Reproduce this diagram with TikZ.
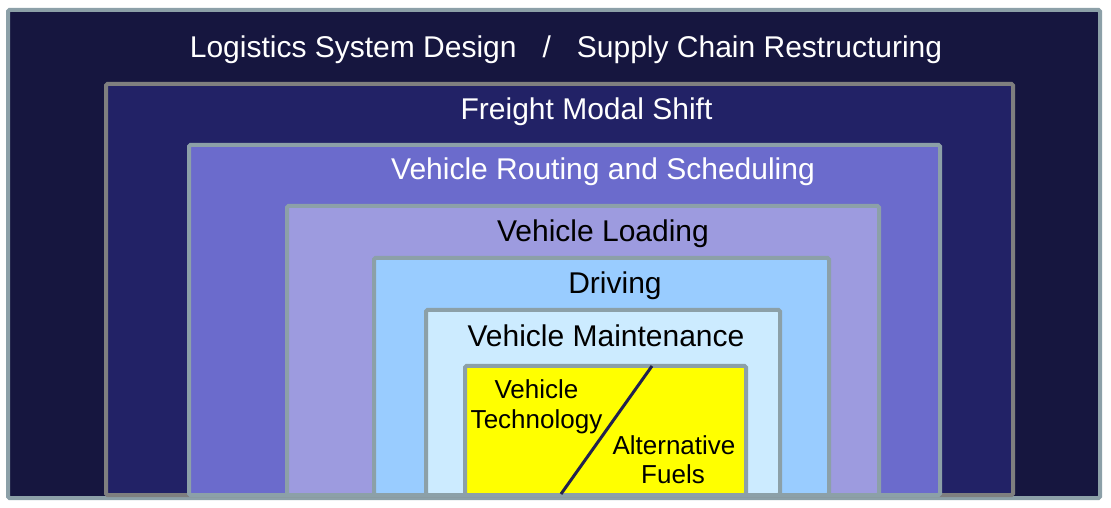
\documentclass[tikz,border=0pt]{standalone}
\usepackage{fontspec}
\setmainfont{Liberation Sans}
\definecolor{cOuter}{HTML}{16163F}
\definecolor{cFreight}{HTML}{222266}
\definecolor{cRouting}{HTML}{6B6BCC}
\definecolor{cLoading}{HTML}{9D9BDF}
\definecolor{cDriving}{HTML}{99CCFF}
\definecolor{cMaint}{HTML}{CCEBFF}
\definecolor{cYellow}{HTML}{FFFF00}
\definecolor{cEdge}{HTML}{8CA0A8}
\definecolor{cGrey}{HTML}{7F7F7F}
\definecolor{cDiv}{HTML}{22224F}
\tikzset{
  layer/.style={draw=cEdge, line width=4bp, rounded corners=1.5bp},
  lbl/.style={inner sep=0pt, anchor=base, font=\fontsize{30bp}{36bp}\selectfont},
  smalllbl/.style={inner sep=0pt, anchor=base, font=\fontsize{26bp}{31bp}\selectfont},
}
\begin{document}
\begin{tikzpicture}[x=1bp, y=-1bp]
\useasboundingbox[fill=white] (0,0) rectangle (1111,508);
% nested layers
\draw[layer, fill=cOuter] (8,10) rectangle (1100,498);
\draw[layer, draw=cGrey, fill=cFreight] (106,84) rectangle (1013,495);
\draw[layer, fill=cRouting] (189,145) rectangle (940,495);
\draw[layer, fill=cLoading] (287,206) rectangle (879,495);
\draw[layer, fill=cDriving] (374,258) rectangle (829,495);
\draw[layer, fill=cMaint] (426,310) rectangle (780,495);
\draw[layer, fill=cYellow] (465,366) rectangle (746,495);
% divider
\coordinate (dtop) at (652,366);
\coordinate (dbot) at (561,494);
\draw[cDiv, line width=3bp] (dtop) -- (dbot);
% labels
\node[lbl, text=white] (title) at (566,58) {Logistics System Design\hspace{26bp}/\hspace{26bp}Supply Chain Restructuring};
\node[lbl, text=white] (freight) at (586.5,120) {Freight Modal Shift};
\node[lbl, text=white] (routing) at (603,180) {Vehicle Routing and Scheduling};
\node[lbl] (loading) at (603,242) {Vehicle Loading};
\node[lbl] (driving) at (615,294) {Driving};
\node[lbl] (maint) at (606,347) {Vehicle Maintenance};
\node[smalllbl] (veh) at (536.5,398) {Vehicle};
\node[smalllbl] (tech) at (536.5,428) {Technology};
\node[smalllbl] (alt) at (674,454) {Alternative};
\node[smalllbl] (fuels) at (673,483) {Fuels};
\end{tikzpicture}
\end{document}
